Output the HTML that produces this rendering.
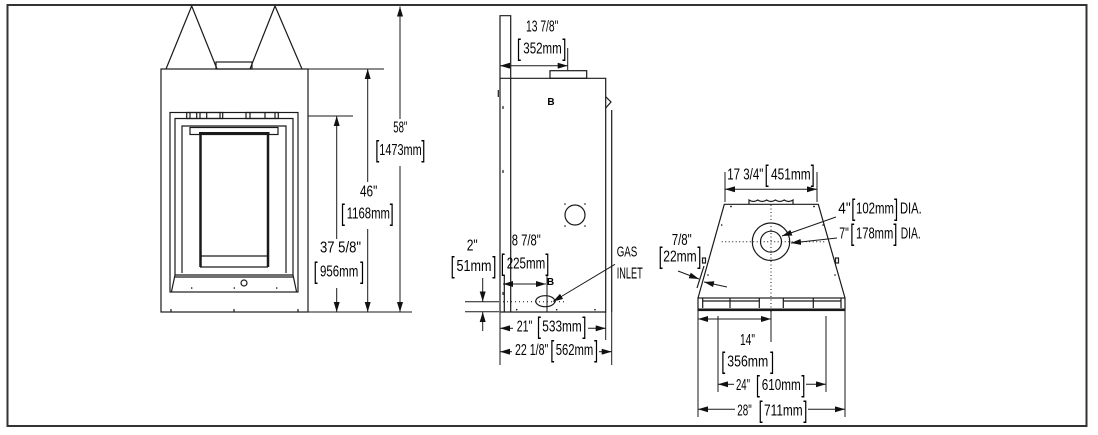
<!DOCTYPE html>
<html><head><meta charset="utf-8"><style>
html,body{margin:0;padding:0;background:#fff}
svg{display:block}
text{font-family:"Liberation Sans Narrow","Liberation Sans",sans-serif;font-size:16px;fill:#000}
.br{font-size:24px}
.o{fill:none;stroke:#1a1a1a;stroke-width:1.2}
.d{fill:none;stroke:#1a1a1a;stroke-width:1}
</style></head><body>
<svg width="1098" height="435" viewBox="0 0 1098 435">
<defs><marker id="a" viewBox="0 0 10 6" refX="10" refY="3" markerWidth="10" markerHeight="6" markerUnits="userSpaceOnUse" orient="auto-start-reverse"><path d="M0,0L10,3L0,6z" fill="#111"/></marker></defs>
<rect x="7.5" y="5" width="1079" height="421" fill="none" stroke="#333" stroke-width="2"/>

<!-- FRONT VIEW -->
<g class="o">
<rect x="161" y="69" width="147" height="243"/>
<polyline points="166,69 191.7,6 217,69"/>
<polyline points="250,69 275,6 302,69"/>
<rect x="216" y="62" width="36" height="7"/>
<rect x="170" y="112.5" width="128" height="179.5"/>
<path d="M175,275V118.5H293V275"/>
<path d="M182,273V126H286V273"/>
<rect x="190" y="127.5" width="88" height="7"/>
<path d="M175,275H293M175,275L171.5,291.5M293,275L296.5,291.5M175,277H293"/>
<line x1="200.5" y1="133" x2="200.5" y2="267" stroke-width="2.5"/>
<line x1="268" y1="133" x2="268" y2="267" stroke-width="2.5"/>
<line x1="199" y1="133" x2="269.5" y2="133" stroke-width="2"/>
<line x1="200" y1="256" x2="268" y2="256"/>
<line x1="200" y1="267" x2="268" y2="267"/>
<circle cx="244" cy="283" r="3"/>
<rect x="186.7" y="112.5" width="36" height="6"/>
<path d="M190,112.5v6M196.7,112.5v6M200,112.5v6M206.7,112.5v6M220,112.5v6"/>
<rect x="246" y="112.5" width="32.3" height="6"/>
<path d="M250,112.5v6M265,112.5v6M275,112.5v6"/>
<path d="M171,309v3M234,309v3M298,309v3"/>
</g>
<g fill="#111"><circle cx="191.7" cy="288" r="0.8"/><circle cx="234.3" cy="288" r="0.8"/><circle cx="276.7" cy="288" r="0.8"/></g>
<g class="d">
<line x1="308" y1="69" x2="384" y2="69"/>
<line x1="308" y1="116" x2="353" y2="116"/>
<line x1="308" y1="312" x2="412" y2="312"/>
<line x1="400" y1="119" x2="400" y2="6.5" marker-end="url(#a)"/>
<line x1="400" y1="166" x2="400" y2="312" marker-end="url(#a)"/>
<line x1="367.7" y1="182" x2="367.7" y2="69" marker-end="url(#a)"/>
<line x1="367.7" y1="229" x2="367.7" y2="312" marker-end="url(#a)"/>
<line x1="336.7" y1="239" x2="336.7" y2="116" marker-end="url(#a)"/>
<line x1="336.7" y1="288" x2="336.7" y2="312" marker-end="url(#a)"/>
</g>
<text x="393.3" y="132.5" textLength="14" lengthAdjust="spacingAndGlyphs">58"</text>
<text class="br" x="375.3" y="157.5" textLength="4" lengthAdjust="spacingAndGlyphs">[</text><text x="379.3" y="155" textLength="42.4" lengthAdjust="spacingAndGlyphs">1473mm</text><text class="br" x="421.4" y="157.5" textLength="4" lengthAdjust="spacingAndGlyphs">]</text>
<text x="360" y="196.7" textLength="17.3" lengthAdjust="spacingAndGlyphs">46"</text>
<text class="br" x="340.9" y="220.8" textLength="4" lengthAdjust="spacingAndGlyphs">[</text><text x="346.7" y="218.3" textLength="43.3" lengthAdjust="spacingAndGlyphs">1168mm</text><text class="br" x="389.7" y="220.8" textLength="4" lengthAdjust="spacingAndGlyphs">]</text>
<text x="320" y="252.7" textLength="41" lengthAdjust="spacingAndGlyphs">37 5/8"</text>
<text class="br" x="313.6" y="279.2" textLength="4" lengthAdjust="spacingAndGlyphs">[</text><text x="320" y="276.7" textLength="38.3" lengthAdjust="spacingAndGlyphs">956mm</text><text class="br" x="360.1" y="279.2" textLength="4" lengthAdjust="spacingAndGlyphs">]</text>

<!-- SIDE VIEW -->
<g class="o">
<path d="M500,312V15.7H510.7V312"/>
<path d="M500,78.3H605.7V312H500"/>
<rect x="550" y="70.7" width="36.7" height="7.6"/>
<path d="M605.7,96.7L611,102L605.7,108"/>
<line x1="611.7" y1="110" x2="611.7" y2="312"/>
<line x1="504.3" y1="275" x2="504.3" y2="312"/>
<path d="M498.3,90v7M503,106v3M503,170v3M503,292v3"/>
<circle cx="575" cy="215" r="10"/>
<ellipse cx="545.3" cy="301.2" rx="9.5" ry="5.5"/>
</g>
<line x1="503" y1="301.7" x2="565" y2="301.7" stroke="#111" stroke-width="1" stroke-dasharray="1 3"/>
<g fill="#111"><circle cx="565" cy="204" r="0.8"/><circle cx="585" cy="204" r="0.8"/><circle cx="565" cy="226" r="0.8"/><circle cx="585" cy="226" r="0.8"/><circle cx="516.7" cy="309.7" r="0.8"/><circle cx="556.7" cy="309.7" r="0.8"/><circle cx="595" cy="309.7" r="0.8"/></g>
<text x="551" y="105" font-weight="bold" text-anchor="middle" style="font-size:10px">B</text>
<text x="550.5" y="285" font-weight="bold" text-anchor="middle" style="font-size:10px">B</text>
<g class="d">
<line x1="567.7" y1="48" x2="567.7" y2="70"/>
<line x1="500" y1="65.7" x2="567.7" y2="65.7" marker-start="url(#a)" marker-end="url(#a)"/>
<line x1="503" y1="284" x2="546" y2="284" marker-start="url(#a)" marker-end="url(#a)"/>
<line x1="547" y1="275" x2="547" y2="312"/>
<path d="M465,301.7H499M465,311.7H499"/>
<line x1="482.7" y1="278" x2="482.7" y2="301.5" marker-end="url(#a)"/>
<line x1="482.7" y1="331" x2="482.7" y2="312" marker-end="url(#a)"/>
<line x1="500" y1="312" x2="500" y2="365"/>
<line x1="605.7" y1="312" x2="605.7" y2="340"/>
<line x1="611.7" y1="312" x2="611.7" y2="365"/>
<line x1="513" y1="328.3" x2="500" y2="328.3" marker-end="url(#a)"/>
<line x1="588" y1="328.3" x2="605.7" y2="328.3" marker-end="url(#a)"/>
<line x1="512" y1="351.7" x2="500" y2="351.7" marker-end="url(#a)"/>
<line x1="599" y1="351.7" x2="611.7" y2="351.7" marker-end="url(#a)"/>
<line x1="615" y1="264.3" x2="553" y2="301.5" marker-end="url(#a)"/>
</g>
<text x="526" y="31.7" textLength="32.3" lengthAdjust="spacingAndGlyphs">13 7/8"</text>
<text class="br" x="516.9" y="55.8" textLength="4" lengthAdjust="spacingAndGlyphs">[</text><text x="523.3" y="53.3" textLength="38.4" lengthAdjust="spacingAndGlyphs">352mm</text><text class="br" x="562.4" y="55.8" textLength="4" lengthAdjust="spacingAndGlyphs">]</text>
<text x="511.7" y="245.3" textLength="29" lengthAdjust="spacingAndGlyphs">8 7/8"</text>
<text class="br" x="500.8" y="270.8" textLength="4" lengthAdjust="spacingAndGlyphs">[</text><text x="506.7" y="268.3" textLength="38.5" lengthAdjust="spacingAndGlyphs">225mm</text><text class="br" x="545.4" y="270.8" textLength="4" lengthAdjust="spacingAndGlyphs">]</text>
<text x="466.7" y="250.5" textLength="11" lengthAdjust="spacingAndGlyphs">2"</text>
<text class="br" x="450.6" y="273.5" textLength="4" lengthAdjust="spacingAndGlyphs">[</text><text x="456.5" y="271" textLength="35" lengthAdjust="spacingAndGlyphs">51mm</text><text class="br" x="492.4" y="273.5" textLength="4" lengthAdjust="spacingAndGlyphs">]</text>
<text x="616.7" y="256.7" textLength="20.6" lengthAdjust="spacingAndGlyphs" style="font-size:15px">GAS</text>
<text x="616.7" y="278.3" textLength="26" lengthAdjust="spacingAndGlyphs">INLET</text>
<text x="516.7" y="331.7" textLength="15.6" lengthAdjust="spacingAndGlyphs">21"</text>
<text class="br" x="536.9" y="334.2" textLength="4" lengthAdjust="spacingAndGlyphs">[</text><text x="542.3" y="331.7" textLength="39.4" lengthAdjust="spacingAndGlyphs">533mm</text><text class="br" x="582.4" y="334.2" textLength="4" lengthAdjust="spacingAndGlyphs">]</text>
<text x="515" y="355" textLength="33.3" lengthAdjust="spacingAndGlyphs">22 1/8"</text>
<text class="br" x="550.3" y="357.5" textLength="4" lengthAdjust="spacingAndGlyphs">[</text><text x="555.7" y="355" textLength="37.6" lengthAdjust="spacingAndGlyphs">562mm</text><text class="br" x="594.1" y="357.5" textLength="4" lengthAdjust="spacingAndGlyphs">]</text>

<!-- TOP VIEW -->
<g class="o">
<path d="M698,298L724.3,204.3H818.3L845,298"/>
<path d="M749,204.3V200q4.4,3 8.8,0q4.4,3 8.8,0q4.4,3 8.8,0q4.4,3 8.8,0q4.4,3 8.8,0V204.3"/>
<rect x="698" y="298" width="147" height="12.5"/>
<line x1="698" y1="309.5" x2="845" y2="309.5" stroke-width="2"/>
<path d="M702.7,298v10M730,298v10M759.3,298v10M702.7,301H759.3M783.3,298v10M813.3,298v10M841,298v10M783.3,301H841"/>
<circle cx="771" cy="241.7" r="18.7"/>
<circle cx="771" cy="241.7" r="10.5"/>
<rect x="702.5" y="258" width="3" height="5"/>
<rect x="835.5" y="258" width="3" height="5"/>
<line x1="704" y1="266" x2="697" y2="288"/>
</g>
<g stroke="#111" stroke-width="1" stroke-dasharray="1 2.5"><line x1="771" y1="205" x2="771" y2="310"/><line x1="721.7" y1="241.7" x2="826.7" y2="241.7"/></g>
<g fill="#111"><circle cx="731" cy="206.5" r="0.9"/><circle cx="814" cy="206.5" r="0.9"/><circle cx="721.7" cy="225" r="0.8"/><circle cx="823" cy="225" r="0.8"/><circle cx="708" cy="275" r="0.8"/><circle cx="835" cy="275" r="0.8"/><circle cx="771" cy="311" r="0.8"/></g>
<g class="d">
<line x1="725" y1="172" x2="725" y2="202"/>
<line x1="817" y1="172" x2="817" y2="202"/>
<line x1="725" y1="189.3" x2="817" y2="189.3" marker-start="url(#a)" marker-end="url(#a)"/>
<line x1="836" y1="217" x2="782" y2="236" marker-end="url(#a)"/>
<line x1="837" y1="238" x2="791" y2="243" marker-end="url(#a)"/>
<line x1="678" y1="271" x2="699" y2="279" marker-end="url(#a)"/>
<line x1="727" y1="287" x2="704" y2="282" marker-end="url(#a)"/>
<line x1="698" y1="311" x2="698" y2="417"/>
<line x1="845" y1="311" x2="845" y2="417"/>
<line x1="718" y1="316" x2="718" y2="392"/>
<line x1="826" y1="316" x2="826" y2="392"/>
<line x1="771" y1="311" x2="771" y2="342"/>
<line x1="698" y1="319" x2="771" y2="319" marker-start="url(#a)" marker-end="url(#a)"/>
<line x1="734" y1="384.3" x2="718" y2="384.3" marker-end="url(#a)"/>
<line x1="806" y1="384.3" x2="826" y2="384.3" marker-end="url(#a)"/>
<line x1="735" y1="409.3" x2="698" y2="409.3" marker-end="url(#a)"/>
<line x1="808" y1="409.3" x2="845" y2="409.3" marker-end="url(#a)"/>
</g>
<text x="727.3" y="179.3" textLength="36" lengthAdjust="spacingAndGlyphs">17 3/4"</text>
<text class="br" x="764.6" y="181.8" textLength="4" lengthAdjust="spacingAndGlyphs">[</text><text x="771" y="179.3" textLength="39.7" lengthAdjust="spacingAndGlyphs">451mm</text><text class="br" x="810.7" y="181.8" textLength="4" lengthAdjust="spacingAndGlyphs">]</text>
<text x="838.3" y="213.3" textLength="12.4" lengthAdjust="spacingAndGlyphs">4"</text>
<text class="br" x="851.3" y="215.8" textLength="4" lengthAdjust="spacingAndGlyphs">[</text><text x="856" y="213.3" textLength="38" lengthAdjust="spacingAndGlyphs">102mm</text><text class="br" x="894.1" y="215.8" textLength="4" lengthAdjust="spacingAndGlyphs">]</text>
<text x="900" y="213.3" textLength="21.7" lengthAdjust="spacingAndGlyphs">DIA.</text>
<text x="839.3" y="238.3" textLength="9.5" lengthAdjust="spacingAndGlyphs">7"</text>
<text class="br" x="850.3" y="240.8" textLength="4" lengthAdjust="spacingAndGlyphs">[</text><text x="856" y="238.3" textLength="37.3" lengthAdjust="spacingAndGlyphs">178mm</text><text class="br" x="893.4" y="240.8" textLength="4" lengthAdjust="spacingAndGlyphs">]</text>
<text x="900.7" y="238.3" textLength="20" lengthAdjust="spacingAndGlyphs">DIA.</text>
<text x="671.7" y="245" textLength="20" lengthAdjust="spacingAndGlyphs">7/8"</text>
<text class="br" x="658.6" y="264.2" textLength="4" lengthAdjust="spacingAndGlyphs">[</text><text x="663.3" y="261.7" textLength="33.4" lengthAdjust="spacingAndGlyphs">22mm</text><text class="br" x="697.4" y="264.2" textLength="4" lengthAdjust="spacingAndGlyphs">]</text>
<text x="740" y="345" textLength="15" lengthAdjust="spacingAndGlyphs">14"</text>
<text class="br" x="721.3" y="369.2" textLength="4" lengthAdjust="spacingAndGlyphs">[</text><text x="727.3" y="366.7" textLength="41" lengthAdjust="spacingAndGlyphs">356mm</text><text class="br" x="770.1" y="369.2" textLength="4" lengthAdjust="spacingAndGlyphs">]</text>
<text x="736" y="390" textLength="14" lengthAdjust="spacingAndGlyphs">24"</text>
<text class="br" x="755.9" y="392.5" textLength="4" lengthAdjust="spacingAndGlyphs">[</text><text x="761.7" y="390" textLength="39" lengthAdjust="spacingAndGlyphs">610mm</text><text class="br" x="801.4" y="392.5" textLength="4" lengthAdjust="spacingAndGlyphs">]</text>
<text x="737.3" y="415.7" textLength="14.4" lengthAdjust="spacingAndGlyphs">28"</text>
<text class="br" x="758.6" y="418.2" textLength="4" lengthAdjust="spacingAndGlyphs">[</text><text x="764" y="415.7" textLength="38.7" lengthAdjust="spacingAndGlyphs">711mm</text><text class="br" x="803.4" y="418.2" textLength="4" lengthAdjust="spacingAndGlyphs">]</text>
</svg>
</body></html>
